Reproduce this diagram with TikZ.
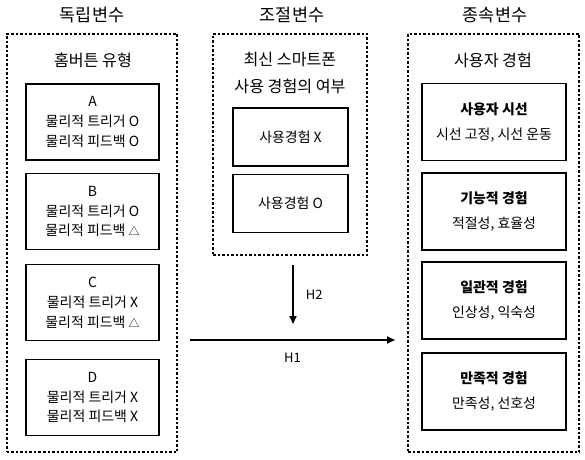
\documentclass[tikz,border=0pt]{standalone}
\usepackage{fontspec}
\setmainfont{Noto Sans CJK KR}
\usetikzlibrary{arrows.meta}
\newcommand{\tri}{{\fontsize{11}{11}\selectfont △}}
\begin{document}
\begin{tikzpicture}
  [x=1bp,y=-1bp,line width=1.7bp,every node/.style={inner sep=0pt,align=center}]
  \tikzstyle{title} = [font=\fontsize{17.5}{20}\selectfont]
  \tikzstyle{head} = [font=\fontsize{16.2}{27}\selectfont]
  \tikzstyle{group} = [draw,dash pattern=on 2.5bp off 2bp]
  \tikzstyle{item} = [draw,font=\fontsize{14}{20}\selectfont]
  \tikzstyle{hyp} = [font=\fontsize{13}{15}\selectfont]
  \tikzstyle{arr} = [-{Triangle[width=7bp,length=8bp]}]
  \useasboundingbox (0,0) rectangle (585,460);
  % column titles
  \node[title] (t1) at (92,15) {독립변수};
  \node[title] (t2) at (292,15) {조절변수};
  \node[title] (t3) at (495,15) {종속변수};
  % dotted groups
  \node[group,minimum width=170bp,minimum height=418bp] (iv) at (92,243) {};
  \node[group,minimum width=154bp,minimum height=221bp] (mv) at (290,144.5) {};
  \node[group,minimum width=171bp,minimum height=418bp] (dv) at (493.5,243) {};
  \node[head] (iv head) at (93,60) {홈버튼 유형};
  \node[head] (mv head) at (290,73) {최신 스마트폰\\사용 경험의 여부};
  \node[head] (dv head) at (493,60) {사용자 경험};
  % boxes
\foreach \name /\y /\txt in {a/122/{A\\물리적 트리거 O\\물리적 피드백 O},
    b/211.5/{B\\물리적 트리거 O\\물리적 피드백 \tri},
    c/302.5/{C\\물리적 트리거 X\\물리적 피드백 \tri},
    d/397.5/{D\\물리적 트리거 X\\물리적 피드백 X}}
   \node[item,minimum width=133bp,minimum height=76bp] (\name) at (92.5,\y) {\txt};
\foreach \name /\y /\txt in {ux/137/{사용경험 X}, uo/203.5/{사용경험 O}}
   \node[item,minimum width=115bp,minimum height=58bp] (\name) at (290.5,\y) {\txt};
\foreach \name /\y /\txt in {gaze/122/{\textbf{사용자 시선}\\시선 고정, 시선 운동},
    func/211.5/{\textbf{기능적 경험}\\적절성, 효율성},
    cons/300.5/{\textbf{일관적 경험}\\인상성, 익숙성},
    sat/391.5/{\textbf{만족적 경험}\\만족성, 선호성}}
   \node[item,font=\fontsize{14}{25}\selectfont,minimum width=144bp,minimum height=77bp] (\name) at (494,\y) {\txt};
  % hypotheses
  \coordinate (h1s) at (190,340);
  \coordinate (h1e) at (395,340);
  \coordinate (h2s) at (293,265);
  \coordinate (h2e) at (293,324);
  \draw[arr] (h1s) -- node[hyp,midway,below=12bp] {H1} (h1e);
  \draw[arr] (h2s) -- node[hyp,midway,right=12bp] {H2} (h2e);

\end{tikzpicture}
\end{document}
